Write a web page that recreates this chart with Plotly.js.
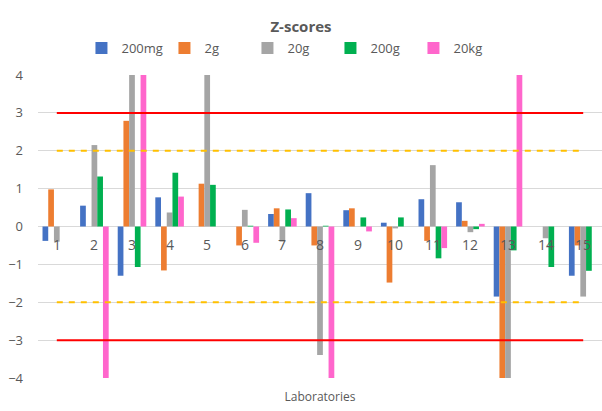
<!DOCTYPE html>
<html>
<head>
<meta charset="utf-8">
<script src="https://cdn.plot.ly/plotly-3.0.1.min.js"></script>
<style>html,body{margin:0;padding:0;background:#fff}#chart{width:602px;height:411px}</style>
</head>
<body>
<div id="chart"></div>
<script>
const categories = ['1','2','3','4','5','6','7','8','9','10','11','12','13','14','15'];
const seriesNames = ['200mg','2g','20g','200g','20kg'];
const s200mg = [-0.38, 0.55, -1.30, 0.77, 0, 0, 0.33, 0.88, 0.43, 0.10, 0.72, 0.64, -1.85, 0, -1.30];
const s2g    = [0.98, 0, 2.79, -1.16, 1.13, -0.50, 0.48, -0.50, 0.48, -1.48, -0.38, 0.15, -5.0, 0, -0.50];
const s20g   = [-0.40, 2.15, 5.0, 0.37, 5.0, 0.44, -0.40, -3.39, 0, -0.05, 1.62, -0.15, -5.0, -0.31, -1.85];
const s200g  = [0, 1.32, -1.07, 1.42, 1.10, 0.02, 0.45, 0.02, 0.24, 0.24, -0.84, -0.07, -0.63, -1.07, -1.17];
const s20kg  = [0, -5.0, 5.0, 0.79, 0, -0.43, 0.22, -5.0, -0.13, 0, -0.57, 0.07, 5.0, 0, 0];
const seriesColors = ['#4472C4','#ED7D31','#A5A5A5','#00B050','#FF66CC'];
const actionLimits = [3, -3];
const warningLimits = [2, -2];
const yTicks = [-4,-3,-2,-1,0,1,2,3,4];

const allSeries = [s200mg, s2g, s20g, s200g, s20kg];
const traces = allSeries.map((vals, i) => ({
  type: 'bar', name: seriesNames[i], x: categories, y: vals,
  marker: {color: seriesColors[i]}, hoverinfo: 'skip'
}));
actionLimits.forEach(v => traces.push({
  type: 'scatter', mode: 'lines', x: [categories[0], categories[categories.length-1]], y: [v, v],
  line: {color: '#FF0000', width: 2}, showlegend: false, hoverinfo: 'skip'
}));
warningLimits.forEach(v => traces.push({
  type: 'scatter', mode: 'lines', x: [categories[0], categories[categories.length-1]], y: [v, v],
  line: {color: '#FFC000', width: 2, dash: '6px,6px'}, showlegend: false, hoverinfo: 'skip'
}));

const annotations = categories.map((c, i) => ({
  x: i, y: 0, xref: 'x', yref: 'y', text: c, showarrow: false,
  yanchor: 'top', yshift: -6, font: {family: 'Open Sans, Liberation Sans, sans-serif', size: 14, color: '#595959'}
}));

const layout = {
  width: 602, height: 411,
  margin: {l: 38, r: 0, t: 75, b: 33},
  paper_bgcolor: '#ffffff', plot_bgcolor: '#ffffff',
  font: {family: 'Open Sans, Liberation Sans, sans-serif', color: '#595959', size: 12},
  title: {text: '<b>Z-scores</b>', x: 0.5, xref: 'container', y: 1 - 27/411, yref: 'container', yanchor: 'middle',
          font: {size: 15, color: '#595959'}},
  barmode: 'group', bargap: 0.24, bargroupgap: 0,
  showlegend: true,
  legend: {orientation: 'h', x: 0.48, xref: 'container', xanchor: 'center', y: 1 - 48/411, yref: 'container', yanchor: 'middle',
           font: {size: 13, color: '#595959'}, itemwidth: 30, tracegroupgap: 0, entrywidth: 38},
  xaxis: {type: 'category', range: [-0.5, categories.length - 0.5], showticklabels: false, showgrid: false, zeroline: false, showline: false,
          title: {text: 'Laboratories', standoff: 14, font: {size: 12, color: '#595959'}}, fixedrange: true},
  yaxis: {range: [-4, 4], tickvals: yTicks, showgrid: true, gridcolor: '#D9D9D9', gridwidth: 1,
          zeroline: true, zerolinecolor: '#D9D9D9', zerolinewidth: 1, showline: false,
          tickfont: {size: 13, color: '#595959'}, ticklabelstandoff: 14, fixedrange: true},
  annotations: annotations
};
Plotly.newPlot('chart', traces, layout, {displayModeBar: false, staticPlot: true});
</script>
</body>
</html>
